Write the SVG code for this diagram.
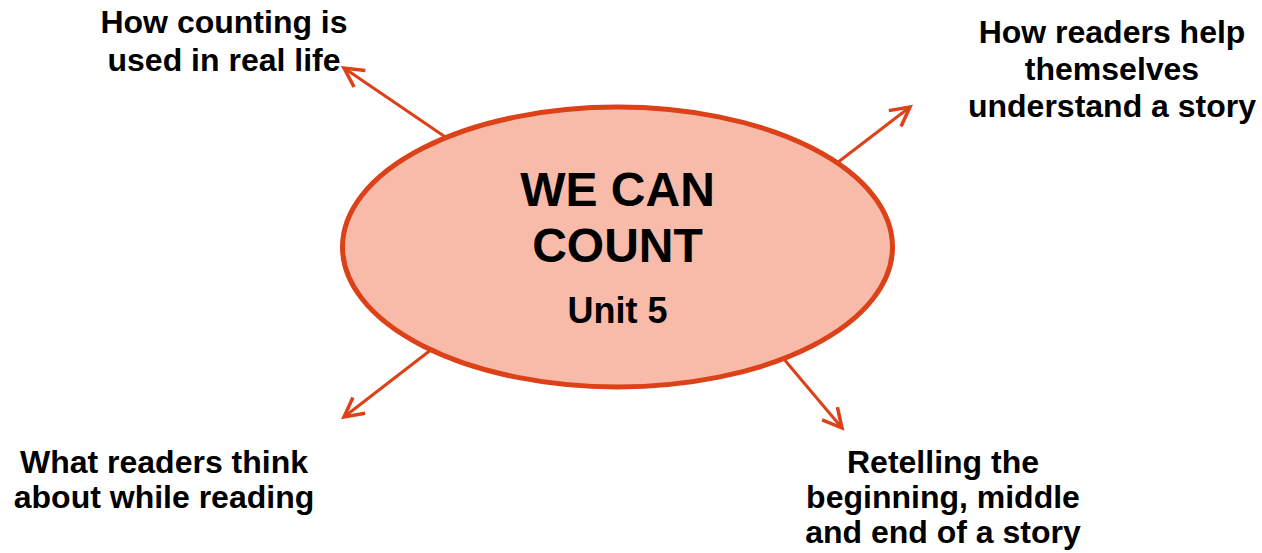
<svg xmlns="http://www.w3.org/2000/svg" width="1262" height="553" viewBox="0 0 1262 553">
  <style>
    .lbl { font-family: "Liberation Sans", Arial, sans-serif; font-weight: bold; font-size: 32px; fill: #000; text-anchor: middle; }
    .title { font-family: "Liberation Sans", Arial, sans-serif; font-weight: bold; font-size: 48px; fill: #000; text-anchor: middle; }
    .sub { font-family: "Liberation Sans", Arial, sans-serif; font-weight: bold; font-size: 36px; fill: #000; text-anchor: middle; }
    .conn { stroke: #DC4118; stroke-width: 3; fill: none; marker-end: url(#arrow); }
  </style>
  <defs>
    <marker id="arrow" markerUnits="userSpaceOnUse" markerWidth="40" markerHeight="40" refX="0" refY="0" orient="auto" overflow="visible">
      <path d="M -19,-10 L 0,0 L -19,10" fill="none" stroke="#DC4118" stroke-width="3.5" stroke-linecap="butt" stroke-linejoin="miter"/>
    </marker>
  </defs>
  <rect width="1262" height="553" fill="#FFFFFF"/>
  <g id="connectors">
    <line class="conn" x1="460" y1="147" x2="344" y2="68"/>
    <line class="conn" x1="820" y1="176" x2="910" y2="107"/>
    <line class="conn" x1="445" y1="339" x2="344" y2="417"/>
    <line class="conn" x1="772" y1="345" x2="842" y2="428"/>
  </g>
  <g id="center">
    <ellipse cx="617.5" cy="247" rx="275" ry="140" fill="#F8BBAA" stroke="#DC4118" stroke-width="5"/>
    <text class="title" x="617.5" y="206">WE CAN</text>
    <text class="title" x="617.5" y="262">COUNT</text>
    <text class="sub" x="617.5" y="323">Unit 5</text>
  </g>
  <g id="node-counting">
    <text class="lbl" x="224" y="33">How counting is</text>
    <text class="lbl" x="224" y="71">used in real life</text>
  </g>
  <g id="node-readers-help">
    <text class="lbl" x="1112" y="43">How readers help</text>
    <text class="lbl" x="1112" y="80">themselves</text>
    <text class="lbl" x="1112" y="117">understand a story</text>
  </g>
  <g id="node-think">
    <text class="lbl" x="164" y="473">What readers think</text>
    <text class="lbl" x="164" y="508">about while reading</text>
  </g>
  <g id="node-retelling">
    <text class="lbl" x="943" y="473">Retelling the</text>
    <text class="lbl" x="943" y="508">beginning, middle</text>
    <text class="lbl" x="943" y="543">and end of a story</text>
  </g>
</svg>
